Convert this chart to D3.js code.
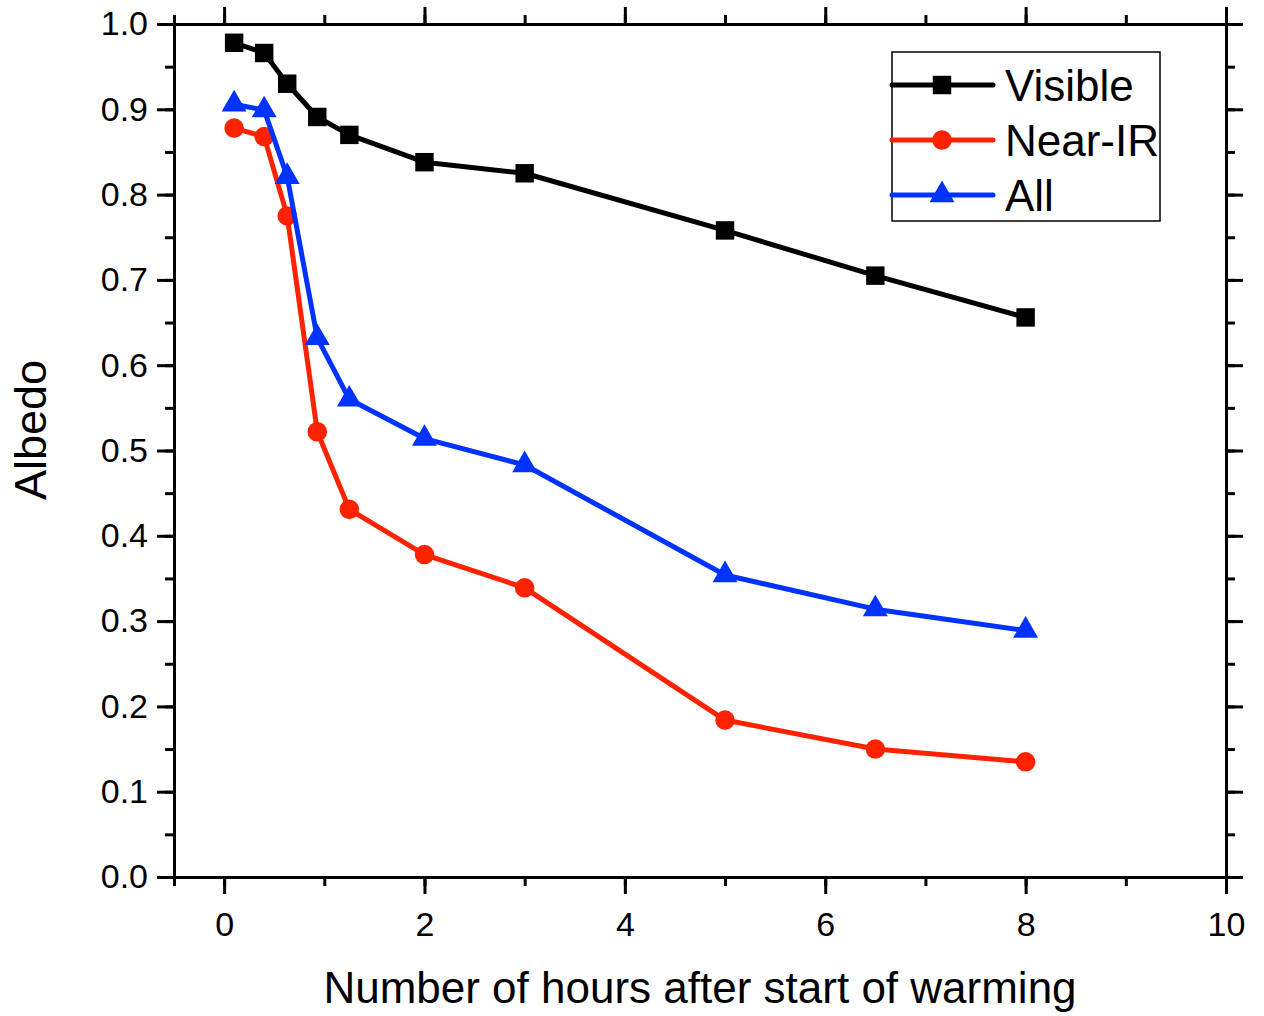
<!DOCTYPE html>
<html>
<head>
<meta charset="utf-8">
<script src="https://cdn.jsdelivr.net/npm/d3@7"></script>
<style>
  body { margin: 0; background: #fff; }
  svg { font-family: "Liberation Sans", Arial, sans-serif; }
</style>
</head>
<body>
<svg id="chart" width="1264" height="1016"></svg>
<script>
// data
let hours = [0.1, 0.4, 0.63, 0.93, 1.25, 2, 3, 5, 6.5, 8];
let visible = [0.978, 0.966, 0.930, 0.891, 0.870, 0.838, 0.825, 0.758, 0.705, 0.656];
let nearIR = [0.878, 0.868, 0.775, 0.522, 0.431, 0.378, 0.339, 0.184, 0.150, 0.135];
let all = [0.906, 0.899, 0.821, 0.632, 0.560, 0.514, 0.483, 0.354, 0.314, 0.289];
let seriesNames = ["Visible", "Near-IR", "All"];
let xTicks = [0, 2, 4, 6, 8, 10];
let yTicks = [0, 0.1, 0.2, 0.3, 0.4, 0.5, 0.6, 0.7, 0.8, 0.9, 1.0];

let series = [
    {name: seriesNames[0], values: visible, color: "#000000", shape: d3.symbolSquare, size: 340},
    {name: seriesNames[1], values: nearIR, color: "#ff2200", shape: d3.symbolCircle, size: 300},
    {name: seriesNames[2], values: all, color: "#0033ff", shape: d3.symbolTriangle, size: 270},
];

let plot = {left: 174, right: 1226, top: 24, bottom: 877};

let svg = d3.select("#chart");

let xScale = d3.scaleLinear().domain([-0.5, 10]).range([plot.left, plot.right]);
let yScale = d3.scaleLinear().domain([0, 1]).range([plot.bottom, plot.top]);

let minorX = d3.range(0, 10.01, 1);
let minorY = d3.range(0, 1.001, 0.05);

// axes on all four sides, ticks out
function styleAxis(g) {
    g.selectAll("path.domain").attr("stroke-width", 3).attr("stroke", "#000");
    g.selectAll(".tick line").attr("stroke-width", 3).attr("stroke", "#000");
    g.selectAll(".tick text").attr("font-size", 34).attr("fill", "#000");
}

// minor ticks first
svg.append("g").attr("transform", "translate(0," + plot.bottom + ")")
    .call(d3.axisBottom(xScale).tickValues(minorX).tickSize(9).tickFormat(""))
    .call(styleAxis);
svg.append("g").attr("transform", "translate(0," + plot.top + ")")
    .call(d3.axisTop(xScale).tickValues(minorX).tickSize(9).tickFormat(""))
    .call(styleAxis);
svg.append("g").attr("transform", "translate(" + plot.left + ",0)")
    .call(d3.axisLeft(yScale).tickValues(minorY).tickSize(9).tickFormat(""))
    .call(styleAxis);
svg.append("g").attr("transform", "translate(" + plot.right + ",0)")
    .call(d3.axisRight(yScale).tickValues(minorY).tickSize(9).tickFormat(""))
    .call(styleAxis);

// major ticks
let bottomAxis = svg.append("g").attr("transform", "translate(0," + plot.bottom + ")")
    .call(d3.axisBottom(xScale).tickValues(xTicks).tickSize(17).tickSizeOuter(0).tickPadding(10).tickFormat(d3.format("d")))
    .call(styleAxis);
bottomAxis.selectAll(".tick text").attr("dy", "0.95em");
svg.append("g").attr("transform", "translate(0," + plot.top + ")")
    .call(d3.axisTop(xScale).tickValues(xTicks).tickSize(17).tickSizeOuter(0).tickFormat(""))
    .call(styleAxis);
svg.append("g").attr("transform", "translate(" + plot.left + ",0)")
    .call(d3.axisLeft(yScale).tickValues(yTicks).tickSize(17).tickSizeOuter(0).tickPadding(9).tickFormat(d3.format(".1f")))
    .call(styleAxis);
svg.append("g").attr("transform", "translate(" + plot.right + ",0)")
    .call(d3.axisRight(yScale).tickValues(yTicks).tickSize(17).tickSizeOuter(0).tickFormat(""))
    .call(styleAxis);

// axis titles
svg.append("text")
    .attr("x", 700)
    .attr("y", 1003)
    .attr("text-anchor", "middle")
    .attr("font-size", 44)
    .text("Number of hours after start of warming");

svg.append("text")
    .attr("transform", "translate(46," + 430 + ") rotate(-90)")
    .attr("text-anchor", "middle")
    .attr("font-size", 45)
    .text("Albedo");

// lines and markers
let line = d3.line()
    .x((d, i) => xScale(hours[i]))
    .y(d => yScale(d));

let groups = svg.selectAll("g.series")
    .data(series)
    .enter()
    .append("g")
    .attr("class", "series");

groups.append("path")
    .attr("d", d => line(d.values))
    .attr("fill", "none")
    .attr("stroke", d => d.color)
    .attr("stroke-width", 5)
    .attr("stroke-linejoin", "round");

groups.each(function(s) {
    d3.select(this).selectAll("path.marker")
        .data(s.values)
        .enter()
        .append("path")
        .attr("class", "marker")
        .attr("d", d3.symbol().type(s.shape).size(s.size))
        .attr("transform", (d, i) => "translate(" + xScale(hours[i]) + "," + yScale(d) + ")")
        .attr("fill", s.color);
});

// legend
let legend = svg.append("g").attr("class", "legend");
legend.append("rect")
    .attr("x", 892).attr("y", 52)
    .attr("width", 268).attr("height", 169)
    .attr("fill", "#fff")
    .attr("stroke", "#000")
    .attr("stroke-width", 1.5);

let rows = legend.selectAll("g.row")
    .data(series)
    .enter()
    .append("g")
    .attr("class", "row")
    .attr("transform", (d, i) => "translate(0," + (85 + i * 55) + ")");

rows.append("line")
    .attr("x1", 892).attr("x2", 993)
    .attr("stroke", d => d.color)
    .attr("stroke-width", 5)
    .attr("stroke-linecap", "round");
rows.append("path")
    .attr("d", d => d3.symbol().type(d.shape).size(d.size)())
    .attr("transform", "translate(942,0)")
    .attr("fill", d => d.color);
rows.append("text")
    .attr("x", 1005)
    .attr("y", 16)
    .attr("font-size", 44)
    .text(d => d.name);
</script>
</body>
</html>
